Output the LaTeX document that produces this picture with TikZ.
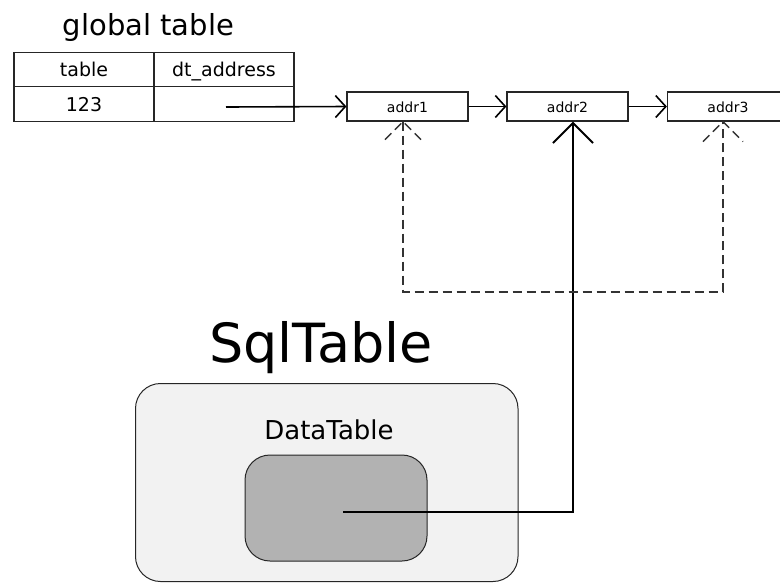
\documentclass[tikz,border=0pt]{standalone}
\usepackage{fontspec}
\setmainfont{DejaVu Sans}
\usetikzlibrary{arrows.meta,calc}

\tikzset{
  cell/.style={draw=black!85, line width=1.2pt, minimum width=140pt, minimum height=34.5pt,
    inner sep=0pt, text height=14pt, text depth=0pt, font=\fontsize{19}{22}\selectfont},
  addrbox/.style={draw=black!85, line width=1.2pt, minimum width=121pt, minimum height=29pt,
    inner sep=0pt, text height=11.5pt, text depth=0pt, font=\fontsize{14}{16}\selectfont},
  link/.style={line width=1.6pt, -{Straight Barb[length=10pt,width=22pt,line width=1.6pt]}},
  bigtip/.style={line width=2pt, -{Straight Barb[length=20pt,width=40pt,line width=2pt]}},
  dashline/.style={line width=1.5pt, dash pattern=on 9pt off 5pt, black!80},
  outerbox/.style={draw=black!85, line width=1pt, fill=black!5, rounded corners=25pt,
    minimum width=382.5pt, minimum height=198pt},
  innerbox/.style={draw=black!85, line width=1pt, fill=black!30, rounded corners=25pt,
    minimum width=182pt, minimum height=106pt},
  title/.style={anchor=base, inner sep=0pt}
}

\begin{document}
\begin{tikzpicture}[x=1pt, y=-1pt]
  \useasboundingbox (0,0) rectangle (780,582);

  % global table
  \node[title, font=\fontsize{29}{34}\selectfont] (gtitle) at (148.5,35) {global table};
  \node[cell] (h1) at (84,69.5) {table};
  \node[cell] (h2) at (224,69.5) {dt\_address};
  \node[cell] (c1) at (84,104) {123};
  \node[cell] (c2) at (224,104) {};
  \coordinate (ptr) at (226,107);

  % linked list of addresses
  \node[addrbox] (a1) at (407.5,106.5) {addr1};
  \node[addrbox] (a2) at (567.5,106.5) {addr2};
  \node[addrbox] (a3) at (728,106.5) {addr3};

  \draw[link] (ptr) -- (a1.west);
  \draw[link] (a1.east) -- (a2.west);
  \draw[link] (a2.east) -- (a3.west);

  % SqlTable with its DataTable
  \node[title, font=\fontsize{54}{60}\selectfont] (sqltitle) at (321,362) {SqlTable};
  \node[outerbox] (sql) at (326.75,482.5) {};
  \node[title, font=\fontsize{26}{30}\selectfont] (dttitle) at (329,439) {DataTable};
  \node[innerbox] (dt) at (336,508) {};
  \coordinate (dtptr) at (343,512);

  % DataTable points to addr2
  \coordinate (t2) at ($(a2.south)+(5.5,0)$);
  \draw[bigtip] (dtptr) -- (dtptr -| t2) -- (t2);

  % dashed loop between addr1 and addr3
  \coordinate (t1) at ($(a1.south)+(-4.5,0)$);
  \coordinate (t3) at ($(a3.south)+(-5,0)$);
  \coordinate (low) at (0,292);
  \draw[dashline] (t1) -- (t1 |- low) -- (t3 |- low) -- (t3);
  \draw[dashline] ($(t1)+(-18,18)$) -- (t1) -- ($(t1)+(20,20)$);
  \draw[dashline] ($(t3)+(-20,20)$) -- (t3) -- ($(t3)+(20,20)$);
\end{tikzpicture}
\end{document}
